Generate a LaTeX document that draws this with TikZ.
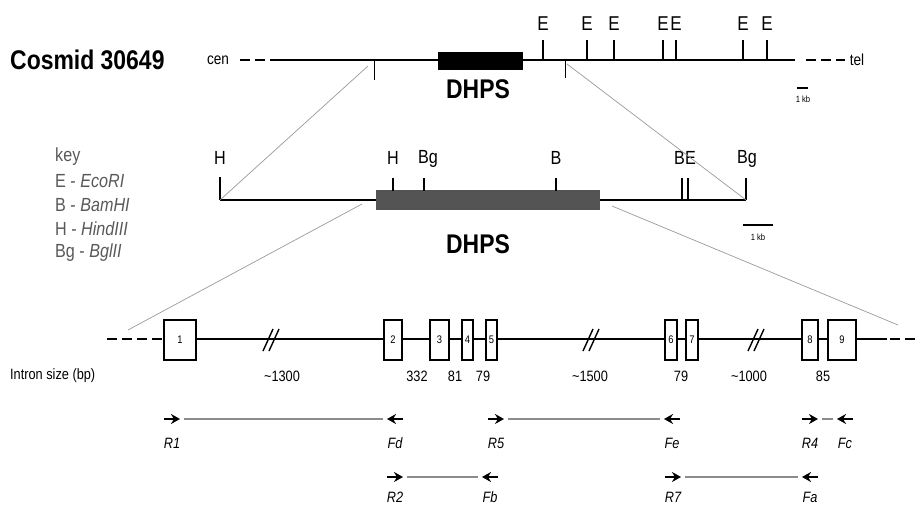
\documentclass[tikz,border=0pt]{standalone}
\usepackage{fontspec}
\setmainfont{Liberation Sans}[FakeStretch=0.85]
\usetikzlibrary{arrows.meta}
\definecolor{keygray}{gray}{0.35}
\definecolor{boxgray}{gray}{0.33}
\definecolor{zoomgray}{gray}{0.6}
\definecolor{conngray}{gray}{0.55}
\tikzset{
  fs/.style={font=\fontsize{#1}{#1}\selectfont},
  lab/.style={inner sep=0pt, fs=#1},
  ttl/.style={inner sep=0pt, font=\bfseries\fontsize{#1}{#1}\selectfont},
  mapline/.style={line width=2pt},
  dashline/.style={line width=2pt, dash pattern=on 10pt off 5pt},
  tick/.style={line width=1.8pt},
  zoomline/.style={zoomgray, line width=0.7pt},
  exon/.style={draw=black, line width=1.6pt, fill=white, inner sep=0pt, minimum height=40pt, font=\fontsize{11}{11}\selectfont},
  brk/.style={line width=1.4pt},
  keyt/.style={inner sep=0pt, anchor=west, keygray, fs=19},
  prm/.style={line width=2pt, -{Stealth[length=9pt,width=10pt]}},
  conn/.style={conngray, line width=1.2pt},
  plab/.style={inner sep=0pt, font=\itshape\fontsize{15}{15}\selectfont},
}
\begin{document}
\begin{tikzpicture}[x=1pt,y=-1pt]
\useasboundingbox (0,0) rectangle (915,505);

% ---------- top: cosmid ----------
\node[ttl=27, anchor=west] (cosmid) at (10,60) {Cosmid 30649};
\node[lab=16] (cen) at (218,60) {cen};
\node[lab=16] (tel) at (857,60) {tel};
\coordinate (cL) at (280,60);
\coordinate (cR) at (795,60);
\draw[dashline] (240,60) -- (cL);
\draw[mapline] (cL) -- (cR);
\draw[dashline] (806,60) -- (845,60);
\node[fill=black, minimum width=85pt, minimum height=18pt, inner sep=0pt] (dhpsTop) at (480.5,61) {};
\node[ttl=27] (dhpsTopLab) at (478,89) {DHPS};
% ticks below
\coordinate (tk1) at (374,80);
\coordinate (tk2) at (565,78);
\draw[line width=1pt] (374,60) -- (tk1);
\draw[line width=1pt] (565,60) -- (tk2);
% EcoRI sites
\foreach \x/\n in {543/e1,587/e2,614/e3,663/e4,676/e5,743/e6,767/e7}{
  \node[lab=20] (\n) at (\x,24) {E};
  \draw[tick] (\x,60) -- (\x,40);
}
\node[lab=9] (kb1) at (803,99) {1 kb};
\draw[line width=1.5pt] (797,88) -- (808,88);

% ---------- middle map ----------
\coordinate (mL) at (220,200);
\coordinate (mR) at (746,200);
\draw[mapline] (mL) -- (mR);
\node[fill=boxgray, minimum width=224pt, minimum height=20pt, inner sep=0pt] (dhpsMid) at (488,200) {};
\node[ttl=27] (dhpsMidLab) at (478,244) {DHPS};
\draw[tick] (220,177) -- (mL);
\draw[tick] (393,178) -- (393,191);
\draw[tick] (424,178) -- (424,191);
\draw[tick] (556,178) -- (556,191);
\draw[tick] (682,178) -- (682,200);
\draw[tick] (688,178) -- (688,200);
\draw[tick] (746,178) -- (mR);
\node[lab=19] (h1) at (220,158) {H};
\node[lab=19] (h2) at (393,158) {H};
\node[lab=19] (bg1) at (428,159) {Bg};
\node[lab=19] (b1) at (556,158) {B};
\node[lab=19] (be) at (685,158) {BE};
\node[lab=19] (bg2) at (747,159) {Bg};
\draw[line width=1.5pt] (743,225) -- (773,225);
\node[lab=9] (kb2) at (758,237) {1 kb};

% key
\node[keyt] (k0) at (55,157) {key};
\node[keyt] (k1) at (55,181) {E - \textit{EcoRI}};
\node[keyt] (k2) at (55,205) {B - \textit{BamHI}};
\node[keyt] (k3) at (55,229) {H - \textit{HindIII}};
\node[keyt] (k4) at (55,253) {Bg - \textit{BglII}};

% zoom lines
\draw[zoomline] (368,66) -- (mL);
\draw[zoomline] (567,64) -- (mR);
\draw[zoomline] (362,204) -- (128,330);
\draw[zoomline] (612,206) -- (898,325);

% ---------- gene structure ----------
\draw[dashline] (107,339) -- (163,339);
\draw[mapline] (163,339) -- (887,339);
\draw[dashline] (890,339) -- (915,339);
\foreach \x/\w/\n/\t in {180/32/x1/1, 393/18/x2/2, 439.5/19/x3/3, 467.5/11/x4/4, 491.5/11/x5/5, 671/12/x6/6, 692/12/x7/7, 810/16/x8/8, 842/28/x9/9}{
  \node[exon, minimum width=\w pt] (\n) at (\x,340) {\t};
}
\foreach \x in {272,592,757}{
  \draw[brk] (\x-9,351) -- (\x+1,329);
  \draw[brk] (\x-3,351) -- (\x+7,329);
}
\node[lab=15, anchor=west] (intron) at (10,376) {Intron size (bp)};
\foreach \x/\t/\n in {282/{\textasciitilde1300}/i1, 417/332/i2, 455/81/i3, 483/79/i4, 590/{\textasciitilde1500}/i5, 681/79/i6, 749/{\textasciitilde1000}/i7, 823/85/i8}{
  \node[lab=15] (\n) at (\x,376) {\t};
}

% ---------- primers ----------
\foreach \x/\y/\n in {172/419/R1, 496/419/R5, 810/419/R4, 395/477/R2, 673/477/R7}{
  \coordinate (\n) at (\x,\y);
  \draw[prm] ([xshift=-8pt]\n) -- ([xshift=8pt]\n);
}
\foreach \x/\y/\n in {395/419/Fd, 672/419/Fe, 845/419/Fc, 490/477/Fb, 810/477/Fa}{
  \coordinate (\n) at (\x,\y);
  \draw[prm] ([xshift=8pt]\n) -- ([xshift=-8pt]\n);
}
\draw[conn] ([xshift=12pt]R1) -- ([xshift=-12pt]Fd);
\draw[conn] ([xshift=12pt]R5) -- ([xshift=-12pt]Fe);
\draw[conn] ([xshift=12pt]R4) -- ([xshift=-12pt]Fc);
\draw[conn] ([xshift=12pt]R2) -- ([xshift=-12pt]Fb);
\draw[conn] ([xshift=12pt]R7) -- ([xshift=-12pt]Fa);
\foreach \n/\t in {R1/R1, Fd/Fd, R5/R5, Fe/Fe, R4/R4, Fc/Fc}{
  \node[plab] (\n lab) at ([yshift=-24pt]\n) {\t};
}
\foreach \n/\t in {R2/R2, Fb/Fb, R7/R7, Fa/Fa}{
  \node[plab] (\n lab) at ([yshift=-20pt]\n) {\t};
}
\end{tikzpicture}
\end{document}
